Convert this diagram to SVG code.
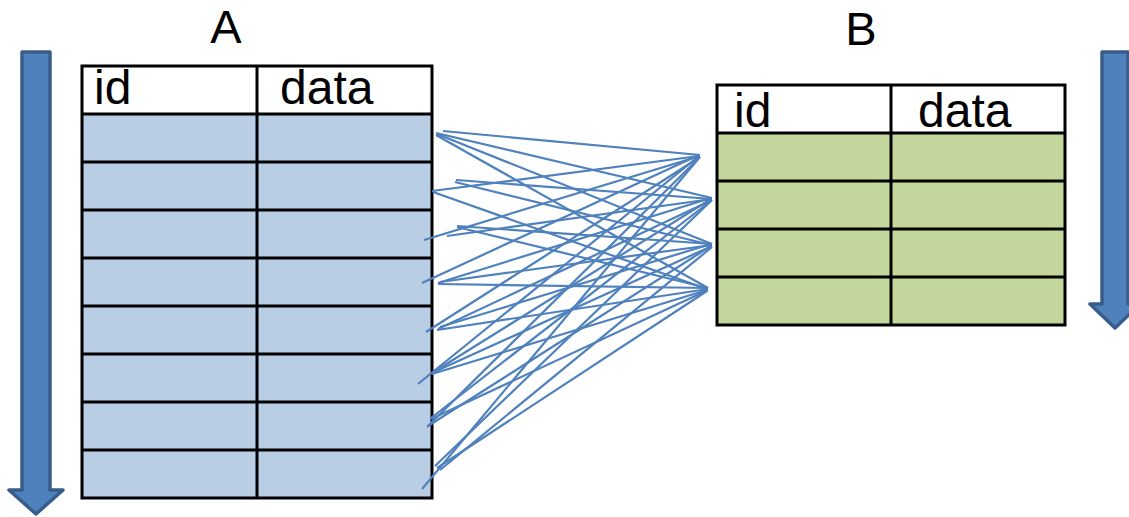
<svg xmlns="http://www.w3.org/2000/svg" width="1129" height="517" viewBox="0 0 1129 517">
  <style>
    .title { font-family: "Liberation Sans", Arial, sans-serif; font-size: 47px; fill: #000; }
    .head { font-family: "Liberation Sans", Arial, sans-serif; font-size: 48px; fill: #000; }
    .grid { stroke: #000; stroke-width: 3; fill: none; }
    .cellA { fill: #B9CDE5; }
    .cellB { fill: #C3D69B; }
    .flow { fill: #4F81BD; stroke: #385D8A; stroke-width: 3.5; stroke-linejoin: round; }
    .link { stroke: #4F81BD; stroke-width: 2.2; fill: none; }
  </style>

  <!-- scan direction arrows -->
  <g id="arrow-left">
    <path class="flow" d="M22,52 L50,52 L50,490 L63,490 L36,514 L9,490 L22,490 Z"/>
  </g>
  <g id="arrow-right">
    <path class="flow" d="M1102,52 L1128,52 L1128,304 L1140,304 L1115,328 L1090,304 L1102,304 Z"/>
  </g>

  <!-- table A -->
  <g id="table-a">
    <text class="title" x="226" y="43" text-anchor="middle">A</text>
    <rect x="82" y="66" width="350" height="48" fill="#fff"/>
    <rect class="cellA" x="82" y="114" width="350" height="384"/>
    <rect class="grid" x="82" y="66" width="350" height="432"/>
    <line class="grid" x1="257" y1="66" x2="257" y2="498"/>
    <path class="grid" d="M82,114H432M82,162H432M82,210H432M82,258H432M82,306H432M82,354H432M82,402H432M82,450H432"/>
    <text class="head" x="94" y="104">id</text>
    <text class="head" x="280" y="104">data</text>
  </g>

  <!-- table B -->
  <g id="table-b">
    <text class="title" x="861" y="45" text-anchor="middle">B</text>
    <rect x="717" y="85" width="348" height="48" fill="#fff"/>
    <rect class="cellB" x="717" y="133" width="348" height="192"/>
    <rect class="grid" x="717" y="85" width="348" height="240"/>
    <line class="grid" x1="891" y1="85" x2="891" y2="325"/>
    <path class="grid" d="M717,133H1065M717,181H1065M717,229H1065M717,277H1065"/>
    <text class="head" x="734" y="127">id</text>
    <text class="head" x="918" y="127">data</text>
  </g>

  <!-- row-to-row links -->
  <g id="connectors" class="link">
    <line x1="443" y1="131" x2="700" y2="155"/>
    <line x1="436" y1="133" x2="712" y2="198"/>
    <line x1="437" y1="134" x2="712" y2="244"/>
    <line x1="436" y1="135" x2="708" y2="288"/>

    <line x1="432" y1="191" x2="699" y2="156"/>
    <line x1="456" y1="180" x2="712" y2="199"/>
    <line x1="455" y1="182" x2="711" y2="245"/>
    <line x1="433" y1="192" x2="707" y2="289"/>

    <line x1="424" y1="240" x2="700" y2="156"/>
    <line x1="447" y1="236" x2="712" y2="199"/>
    <line x1="457" y1="226" x2="712" y2="244"/>
    <line x1="457" y1="227" x2="708" y2="288"/>

    <line x1="422" y1="283" x2="699" y2="155"/>
    <line x1="438" y1="283" x2="711" y2="198"/>
    <line x1="440" y1="282" x2="712" y2="245"/>
    <line x1="438" y1="284" x2="707" y2="288"/>

    <line x1="426" y1="332" x2="700" y2="157"/>
    <line x1="438" y1="329" x2="712" y2="200"/>
    <line x1="440" y1="327" x2="711" y2="244"/>
    <line x1="437" y1="330" x2="708" y2="289"/>

    <line x1="418" y1="384" x2="699" y2="156"/>
    <line x1="432" y1="373" x2="711" y2="199"/>
    <line x1="434" y1="372" x2="712" y2="246"/>
    <line x1="432" y1="374" x2="707" y2="290"/>

    <line x1="427" y1="427" x2="700" y2="157"/>
    <line x1="431" y1="418" x2="712" y2="200"/>
    <line x1="428" y1="426" x2="711" y2="246"/>
    <line x1="431" y1="419" x2="708" y2="290"/>

    <line x1="422" y1="489" x2="699" y2="158"/>
    <line x1="435" y1="466" x2="711" y2="201"/>
    <line x1="440" y1="470" x2="712" y2="247"/>
    <line x1="437" y1="468" x2="707" y2="291"/>
  </g>
</svg>
